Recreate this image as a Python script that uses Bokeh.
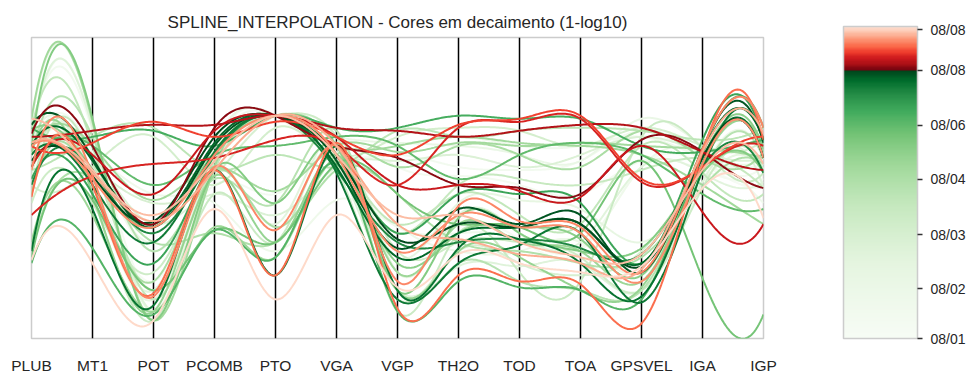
import numpy as np
from bokeh.plotting import figure
from bokeh.models import ColumnDataSource, FixedTicker, LinearColorMapper, ColorBar, Range1d
from bokeh.transform import linear_cmap
from bokeh.embed import file_html
from bokeh.resources import INLINE

# ---------------- data ----------------
axes_names = ["PLUB", "MT1", "POT", "PCOMB", "PTO", "VGA", "VGP",
              "TH2O", "TOD", "TOA", "GPSVEL", "IGA", "IGP"]

# colour position of every record on the colour bar (0 = 08/01 ... 1000 = newest)
line_c = [
    870, 885, 895, 905, 920, 940, 950, 955, 970, 980, 995,          # reds
    820, 845, 830, 790, 810, 855,                                   # dark greens
    720, 680, 650, 700, 740, 620,                                   # medium greens
    100, 180, 260, 330, 400, 440, 480, 520, 550, 560, 350, 120, 220,
    300, 420, 500, 580, 600, 540, 80, 160, 280, 380, 460, 60, 30,   # light greens
]

# normalised values (0-100) of each record on the 13 axes
line_vals = [
    [68, 64, 38, 70, 74, 64, 60, 51, 50, 48, 66, 62, 50],
    [67, 69, 71, 71, 74, 70, 69, 67, 69, 71, 70, 62, 56],
    [57, 61, 48, 69, 74, 67, 51, 51, 49, 47, 64, 42, 38],
    [41, 54, 58, 60, 66, 64, 51, 70, 72, 73, 52, 57, 64],
    [64, 65, 72, 67, 72, 67, 61, 71, 73, 74, 53, 57, 67],
    [47, 51, 15, 56, 21, 65, 10, 21, 19, 18, 5, 62, 66],
    [56, 54, 14, 57, 36, 64, 19, 44, 39, 37, 22, 63, 70],
    [64, 53, 37, 61, 74, 61, 29, 41, 37, 35, 19, 58, 60],
    [65, 55, 39, 56, 74, 64, 38, 33, 28, 25, 23, 62, 68],
    [73, 56, 41, 59, 74, 61, 41, 41, 32, 27, 28, 56, 58],
    [26, 25, 6, 43, 13, 41, 17, 28, 25, 22, 24, 50, 40],
    [29, 43, 11, 56, 21, 64, 16, 30, 33, 25, 14, 58, 60],
    [71, 60, 37, 64, 74, 59, 30, 43, 38, 41, 22, 63, 65],
    [64, 59, 38, 65, 74, 57, 27, 35, 37, 38, 25, 62, 66],
    [51, 56, 35, 61, 74, 56, 32, 32, 33, 30, 28, 57, 55],
    [61, 51, 32, 62, 74, 55, 13, 25, 31, 35, 12, 56, 66],
    [59, 54, 39, 67, 74, 61, 33, 38, 37, 38, 24, 60, 60],
    [70, 67, 69, 64, 74, 70, 70, 74, 73, 73, 64, 62, 66],
    [57, 64, 51, 61, 64, 67, 64, 53, 61, 65, 61, 48, 43],
    [27, 46, 16, 36, 32, 58, 48, 38, 37, 35, 59, 20, 8],
    [25, 30, 8, 36, 27, 58, 9, 19, 17, 16, 13, 62, 70],
    [53, 48, 25, 61, 74, 61, 35, 48, 48, 45, 25, 66, 66],
    [64, 73, 6, 56, 45, 64, 16, 40, 35, 29, 30, 55, 55],
    [64, 70, 9, 61, 74, 64, 64, 67, 64, 64, 67, 60, 58],
    [72, 72, 9, 64, 74, 67, 65, 64, 61, 59, 73, 64, 60],
    [54, 54, 16, 57, 38, 67, 22, 41, 35, 32, 57, 55, 52],
    [67, 57, 45, 54, 74, 57, 13, 29, 25, 21, 29, 55, 56],
    [57, 48, 6, 48, 32, 64, 9, 35, 22, 19, 67, 63, 55],
    [70, 64, 13, 56, 74, 61, 38, 48, 41, 38, 64, 55, 48],
    [61, 67, 29, 53, 45, 69, 16, 25, 19, 16, 16, 55, 60],
    [48, 51, 19, 56, 37, 61, 57, 64, 61, 57, 69, 60, 62],
    [73, 72, 6, 57, 74, 64, 64, 67, 65, 64, 61, 51, 38],
    [32, 41, 9, 37, 27, 59, 22, 38, 32, 29, 19, 58, 62],
    [51, 57, 67, 51, 70, 61, 67, 70, 69, 64, 70, 64, 66],
    [59, 61, 48, 45, 29, 46, 37, 35, 33, 30, 57, 62, 45],
    [65, 51, 13, 61, 74, 64, 27, 45, 46, 43, 32, 52, 56],
    [56, 61, 38, 48, 41, 57, 59, 61, 57, 61, 67, 62, 60],
    [48, 59, 16, 59, 74, 61, 35, 51, 53, 51, 56, 60, 50],
    [30, 53, 32, 35, 32, 56, 48, 32, 29, 25, 27, 50, 58],
    [62, 48, 9, 54, 32, 61, 16, 29, 27, 16, 17, 58, 64],
    [69, 56, 37, 62, 74, 64, 25, 35, 37, 33, 21, 60, 63],
    [64, 64, 46, 57, 49, 64, 62, 65, 64, 65, 64, 63, 60],
    [67, 69, 16, 64, 74, 61, 61, 57, 56, 59, 69, 59, 57],
    [51, 59, 32, 64, 74, 62, 38, 29, 29, 32, 22, 56, 60],
    [66, 70, 9, 57, 74, 59, 16, 24, 24, 25, 16, 52, 50],
    [45, 45, 22, 61, 74, 67, 29, 32, 32, 27, 16, 50, 56],
    [56, 67, 70, 56, 61, 57, 69, 67, 69, 70, 69, 66, 70],
    [61, 62, 29, 51, 48, 65, 57, 54, 51, 48, 59, 56, 53],
    [56, 54, 19, 59, 74, 67, 32, 38, 33, 29, 57, 58, 50],
]

cb_ticks = [0, 160, 333, 510, 683, 859, 990]
cb_labels = ["08/01", "08/02", "08/03", "08/04", "08/06", "08/08", "08/08"]

# ---------------- colour map (Greens, 1-log10 decay, then Reds) ----------------
GREENS = ['#f7fcf5', '#e5f5e0', '#c7e9c0', '#a1d99b', '#74c476', '#41ab5d', '#238b45', '#006d2c', '#00441b']
REDS = ['#fff5f0', '#fee0d2', '#fcbba1', '#fc9272', '#fb6a4a', '#ef3b2c', '#cb181d', '#a50f15', '#67000d']


def _hex(c):
    return np.array([int(c[i:i + 2], 16) for i in (1, 3, 5)], float)


def cm(anchors, s):
    s = min(max(s, 0.0), 1.0) * (len(anchors) - 1)
    i = min(int(s), len(anchors) - 2)
    f = s - i
    rgb = (1 - f) * _hex(anchors[i]) + f * _hex(anchors[i + 1])
    return "#%02x%02x%02x" % tuple(int(round(v)) for v in rgb)


JUNC = 0.859
palette = []
for k in range(256):
    c = k / 255
    if c <= JUNC:
        u = c / JUNC
        palette.append(cm(GREENS, 1 - np.log10(1 + 9 * (1 - u))))
    else:
        w = (c - JUNC) / (1 - JUNC)
        palette.append(cm(REDS, 1 - 0.88 * w))


# ---------------- not-a-knot cubic spline ----------------
def spline(vals, n=40):
    y = np.asarray(vals, float)
    N = len(y)
    A = np.zeros((N, N))
    b = np.zeros(N)
    A[0, 0:3] = [1, -2, 1]
    A[-1, -3:] = [1, -2, 1]
    for i in range(1, N - 1):
        A[i, i - 1:i + 2] = [1, 4, 1]
        b[i] = 6 * (y[i - 1] - 2 * y[i] + y[i + 1])
    M = np.linalg.solve(A, b)
    xs = np.linspace(0, N - 1, (N - 1) * n + 1)
    i = np.minimum(np.floor(xs).astype(int), N - 2)
    t = xs - i
    S = (M[i] * (1 - t) ** 3 / 6 + M[i + 1] * t ** 3 / 6
         + (y[i] - M[i] / 6) * (1 - t) + (y[i + 1] - M[i + 1] / 6) * t)
    return xs, S


order = np.argsort(line_c, kind="stable")
xs_all, ys_all, cs = [], [], []
for k in order:
    xx, yy = spline(line_vals[k])
    xs_all.append(xx)
    ys_all.append(yy)
    cs.append(line_c[k])
src = ColumnDataSource(dict(xs=xs_all, ys=ys_all, c=cs))

# ---------------- figure ----------------
FONT = "Liberation Sans"
p = figure(width=971, height=376, output_backend="svg", toolbar_location=None,
           x_range=Range1d(0, len(axes_names) - 1), y_range=Range1d(0, 100),
           min_border_left=31, min_border_right=208, min_border_top=37, min_border_bottom=27,
           title="SPLINE_INTERPOLATION - Cores em decaimento (1-log10)")
p.title.align = "center"
p.title.vertical_align = "middle"
p.title.text_font = FONT
p.title.text_font_size = "17px"
p.title.text_font_style = "normal"
p.title.text_color = "#262626"

p.outline_line_color = "#cccccc"
p.outline_line_width = 1.5
p.yaxis.visible = False
p.ygrid.visible = False
p.xgrid.ticker = FixedTicker(ticks=list(range(1, len(axes_names) - 1)))
p.xgrid.grid_line_color = "black"
p.xgrid.grid_line_width = 1.5

xa = p.xaxis[0]
xa.ticker = FixedTicker(ticks=list(range(len(axes_names))))
xa.major_label_overrides = {i: n for i, n in enumerate(axes_names)}
xa.axis_line_color = None
xa.major_tick_line_color = None
xa.minor_tick_line_color = None
xa.major_label_standoff = 12
xa.major_label_text_font = FONT
xa.major_label_text_font_size = "15.5px"
xa.major_label_text_color = "#262626"

p.multi_line(xs="xs", ys="ys", source=src, line_width=2,
             line_color=linear_cmap("c", palette, 0, 1000))

mapper = LinearColorMapper(palette=palette, low=0, high=1000)
cb = ColorBar(color_mapper=mapper, location=(812, 0), width=74, height=312,
              padding=0, margin=0,
              ticker=FixedTicker(ticks=cb_ticks),
              major_label_overrides={t: l for t, l in zip(cb_ticks, cb_labels)},
              major_tick_out=5, major_tick_in=0, major_tick_line_color="#333333",
              major_tick_line_width=1.5, minor_tick_line_color=None,
              bar_line_color="#cccccc", bar_line_width=1.5,
              border_line_color=None, background_fill_color=None,
              label_standoff=8, major_label_text_font=FONT,
              major_label_text_font_size="14px", major_label_text_color="#262626")
p.add_layout(cb, "center")

open("out.html", "w").write(file_html(p, INLINE))
